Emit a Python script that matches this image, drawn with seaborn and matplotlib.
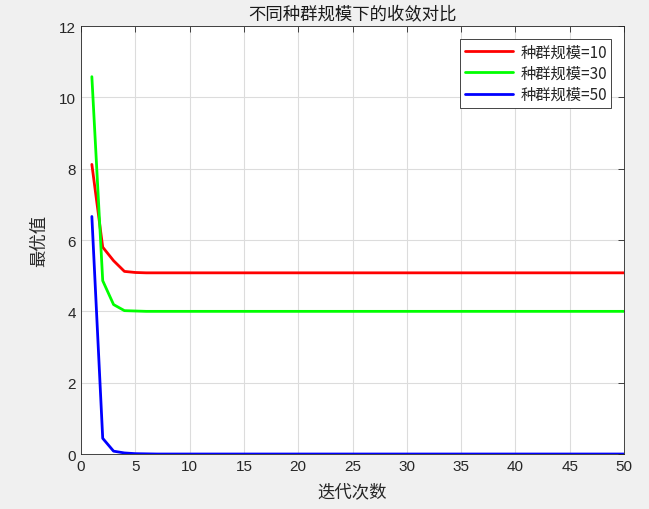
import matplotlib
matplotlib.use("Agg")
import matplotlib.pyplot as plt
import seaborn as sns
import pandas as pd
import numpy as np

iterations = list(range(1, 51))
pop10 = [8.12, 5.80, 5.42, 5.12, 5.09, 5.08] + [5.08] * 44
pop30 = [10.58, 4.86, 4.19, 4.02, 4.01, 4.00] + [4.00] * 44
pop50 = [6.66, 0.44, 0.08, 0.03, 0.01, 0.005] + [0.0] * 44
labels = ["种群规模=10", "种群规模=30", "种群规模=50"]
colors = ["#ff0000", "#00ff00", "#0000ff"]
title = "不同种群规模下的收敛对比"
xlabel = "迭代次数"
ylabel = "最优值"

df = pd.DataFrame({
    "iter": iterations * 3,
    "value": pop10 + pop30 + pop50,
    "series": [labels[0]] * 50 + [labels[1]] * 50 + [labels[2]] * 50,
})

sns.set_theme(style="white")
plt.rcParams['font.family'] = ['Noto Sans CJK SC', 'DejaVu Sans']

fig = plt.figure(figsize=(6.49, 5.10), dpi=100, facecolor="#f0f0f0")
ax = fig.add_axes([0.1248, 0.1078, 0.8367, 0.8392])
ax.set_facecolor("white")

sns.lineplot(data=df, x="iter", y="value", hue="series", palette=colors,
             linewidth=2, ax=ax, legend=True)

ax.set_xlim(0, 50)
ax.set_ylim(0, 12)
ax.set_xticks(np.arange(0, 51, 5))
ax.set_yticks(np.arange(0, 13, 2))
ax.grid(True, color="#dcdcdc", linewidth=0.8)
ax.tick_params(direction="in", length=4, top=True, right=True, labelsize=11,
               colors="#262626", width=0.6)
for lab in ax.get_xticklabels() + ax.get_yticklabels():
    lab.set_family(['Liberation Sans', 'DejaVu Sans'])
for s in ax.spines.values():
    s.set_color("#262626")
    s.set_linewidth(0.6)

ax.set_title(title, fontsize=12.5, color="#1a1a1a", pad=5)
ax.set_xlabel(xlabel, fontsize=12.5, color="#262626", labelpad=7)
ax.set_ylabel(ylabel, fontsize=12.5, color="#262626", labelpad=8)

leg = ax.legend(loc="upper right", fontsize=11, frameon=True, fancybox=False,
                edgecolor="#262626", framealpha=1, borderpad=0.3,
                handlelength=3.2, handletextpad=0.45, labelspacing=0.28,
                bbox_to_anchor=(0.991, 0.988))
leg.get_frame().set_linewidth(0.6)

fig.savefig("out.png", dpi=100, facecolor=fig.get_facecolor())
